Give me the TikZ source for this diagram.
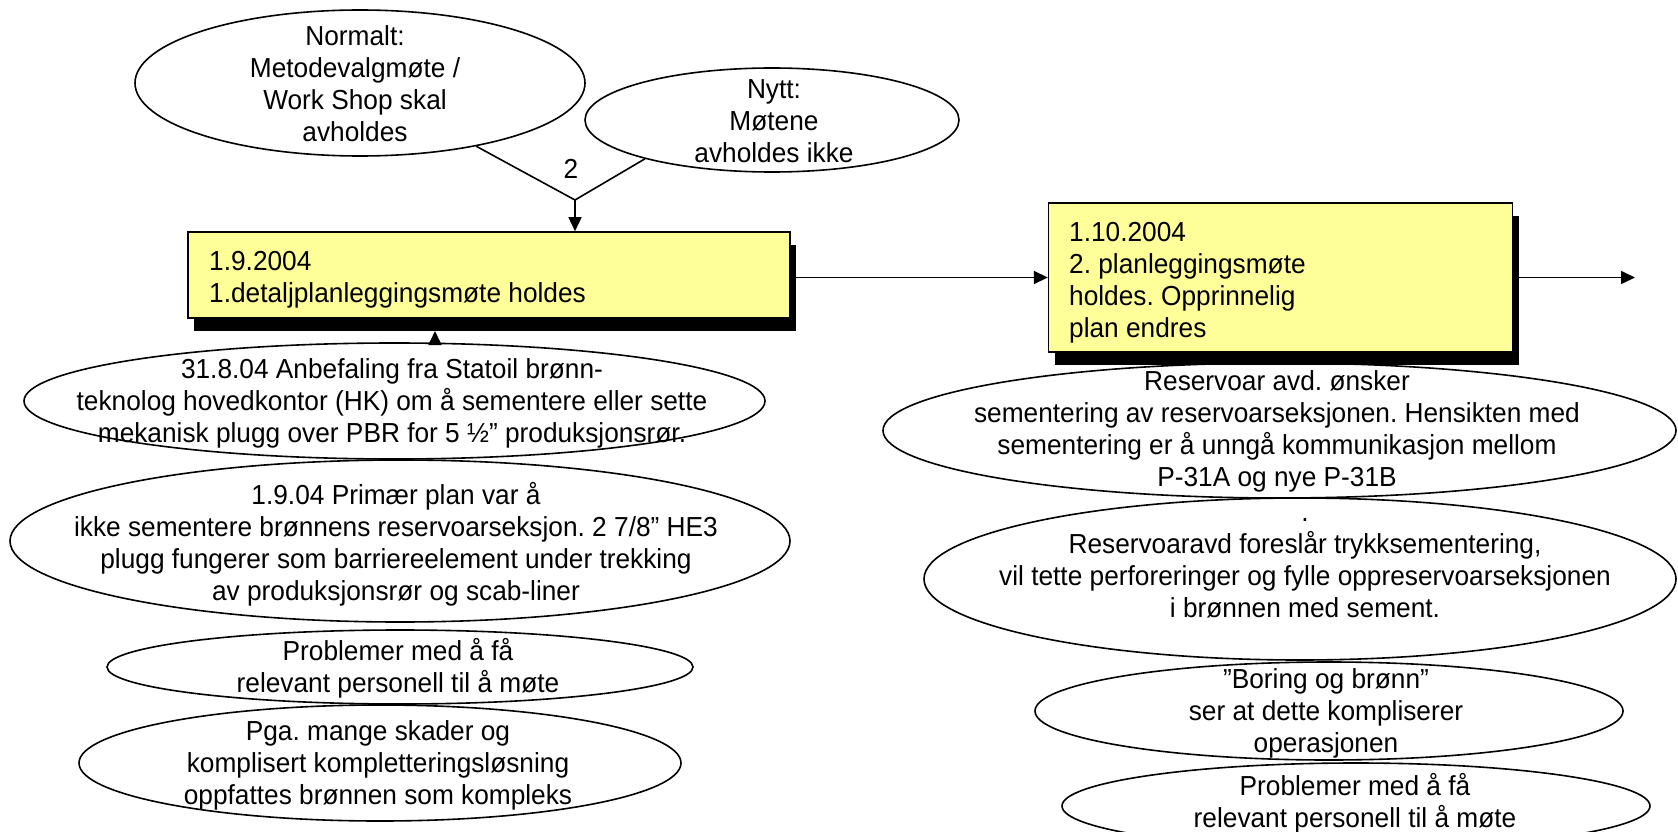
\documentclass[tikz,border=0pt]{standalone}
\usepackage{fontspec}
\setmainfont{Liberation Sans}[FakeStretch=0.955]
\usetikzlibrary{shapes.geometric,arrows.meta,shadows}
\definecolor{boxyellow}{RGB}{255,255,153}
\frenchspacing
\begin{document}
\begin{tikzpicture}[x=1pt,y=-1pt,
  every node/.style={font=\fontsize{27.5}{32}\selectfont},
  ell/.style={draw, line width=1.6pt, ellipse, inner sep=0pt},
  txt/.style={align=center, inner sep=0pt},
  btxt/.style={align=left, inner sep=0pt, anchor=west},
  box/.style={draw, line width=1.6pt, rectangle, fill=boxyellow, inner sep=0pt,
    general shadow={fill=black, shadow xshift=6pt, shadow yshift=-13pt}},
  arr/.style={line width=1.6pt, -{Triangle[length=14pt,width=13pt]}},
  ln/.style={line width=1.6pt}
]
\fill[white] (0,0) rectangle (1678,832);
\useasboundingbox (0,0) rectangle (1678,832);

% top ellipses
\node[ell, minimum width=450pt, minimum height=146pt] (normal) at (360,83) {};
\node[txt] (normalT) at (355,84) {Normalt:\\Metodevalgmøte /\\Work Shop skal\\avholdes};

\node[ell, minimum width=374pt, minimum height=104pt] (nytt) at (772,120) {};
\node[txt] (nyttT) at (774,121) {Nytt:\\Møtene\\avholdes ikke};

% boxes
\node[box, minimum width=602pt, minimum height=86pt] (box1) at (489,275) {};
\node[btxt] (box1T) at (209,280) {1.9.2004\\1.detaljplanleggingsmøte holdes};
\node[box, minimum width=464pt, minimum height=149pt] (box2) at (1280.6,277.5) {};
\node[btxt] (box2T) at (1069,283) {1.10.2004\\2. planleggingsmøte\\holdes. Opprinnelig\\plan endres};

% left ellipses
\node[ell, minimum width=741pt, minimum height=116pt] (l1) at (394.5,401) {};
\node[txt] (l1T) at (392,403) {31.8.04 Anbefaling fra Statoil brønn-\\teknolog hovedkontor (HK) om å sementere eller sette\\mekanisk plugg over PBR for 5 ½” produksjonsrør.};

\node[ell, minimum width=780pt, minimum height=162pt] (l2) at (400,541) {};
\node[txt] (l2T) at (396,544) {1.9.04 Primær plan var å\\ikke sementere brønnens reservoarseksjon. 2 7/8” HE3\\plugg fungerer som barriereelement under trekking\\av produksjonsrør og scab-liner};

\node[ell, minimum width=586pt, minimum height=74pt] (l3) at (400,667) {};
\node[txt] (l3T) at (398,668) {Problemer med å få\\relevant personell til å møte};

\node[ell, minimum width=602pt, minimum height=116pt] (l4) at (380,763) {};
\node[txt] (l4T) at (378,765) {Pga. mange skader og\\komplisert kompletteringsløsning\\oppfattes brønnen som kompleks};

% right ellipses
\node[ell, minimum width=793pt, minimum height=135pt] (r1) at (1279.5,430.5) {};
\node[txt] (r1T) at (1277,431) {Reservoar avd. ønsker\\sementering av reservoarseksjonen. Hensikten med\\sementering er å unngå kommunikasjon mellom\\P-31A og nye P-31B};

\node[ell, minimum width=752pt, minimum height=162pt] (r2) at (1300,579) {};
\node[txt] (r2T) at (1305,568) {.\\Reservoaravd foreslår trykksementering,\\vil tette perforeringer og fylle oppreservoarseksjonen\\i brønnen med sement.};

\node[ell, minimum width=588pt, minimum height=98pt] (r3) at (1329,711) {};
\node[txt] (r3T) at (1326,713) {”Boring og brønn”\\ser at dette kompliserer\\operasjonen};

\node[ell, minimum width=588pt, minimum height=86pt] (r4) at (1356,806) {};
\node[txt] (r4T) at (1355,803) {Problemer med å få\\relevant personell til å møte};

% connectors
\coordinate (vtx) at (575,200);
\draw[ln] (normal) -- (vtx) -- (nytt.197);
\node[inner sep=0pt] (lbl2) at (571,169) {2};
\draw[arr] (vtx) -- (vtx |- box1.north);
\draw[arr] (box1.east |- box2.west) -- (box2.west);
\coordinate (outend) at (1635,277.5);
\draw[arr] (box2.east) -- (outend);
\coordinate (b1in) at (435,331);
\draw[arr] (l1.north -| b1in) -- (b1in);
\end{tikzpicture}
\end{document}
